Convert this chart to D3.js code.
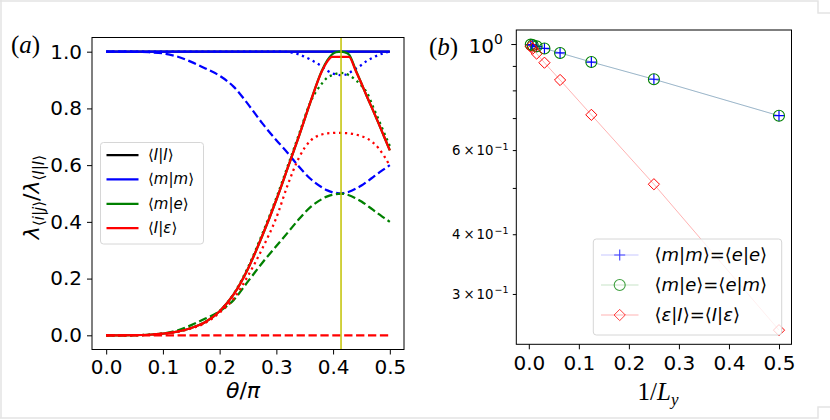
<!DOCTYPE html>
<html>
<head>
<meta charset="utf-8">
<script src="https://d3js.org/d3.v7.min.js"></script>
<style>
body { margin: 0; background: #fff; }
svg text { font-family: "DejaVu Sans", sans-serif; }
</style>
</head>
<body>
<svg id="chart" width="830" height="420"></svg>
<script>
// ---- panel (a) data : theta/pi grid and curves ----
const theta = [0, 0.025, 0.05, 0.075, 0.1, 0.125, 0.15, 0.175, 0.2, 0.225, 0.25, 0.275, 0.3, 0.32, 0.34, 0.36, 0.38, 0.39, 0.398, 0.405, 0.414, 0.42, 0.428, 0.44, 0.45, 0.46, 0.47, 0.48, 0.49, 0.5];

const iiSolid = [1, 1, 1, 1, 1, 1, 1, 1, 1, 1, 1, 1, 1, 1, 1, 1, 1, 1, 1, 1, 1, 1, 1, 1, 1, 1, 1, 1, 1, 1];

const mmSolid = [1, 1, 1, 1, 1, 1, 1, 1, 1, 1, 1, 1, 1, 1, 1, 1, 1, 1, 1, 1, 1, 1, 1, 1, 1, 1, 1, 1, 1, 1];
const mmDashed = [1, 1, 0.9995, 0.998, 0.994, 0.983, 0.964, 0.941, 0.915, 0.876, 0.815, 0.748, 0.688, 0.643, 0.594, 0.552, 0.522, 0.511, 0.505, 0.502, 0.5, 0.502, 0.506, 0.517, 0.528, 0.542, 0.557, 0.572, 0.586, 0.6];
const mmDotted = [1, 1, 1, 1, 1, 1, 1, 1, 1, 1, 1, 1, 1, 0.999, 0.99, 0.972, 0.948, 0.933, 0.924, 0.92, 0.917, 0.918, 0.925, 0.94, 0.953, 0.968, 0.979, 0.988, 0.995, 1];

const meSolid = [0, 0, 0.0003, 0.002, 0.006, 0.013, 0.026, 0.047, 0.085, 0.145, 0.235, 0.35, 0.478, 0.59, 0.703, 0.822, 0.932, 0.97, 0.99, 0.998, 1, 0.998, 0.99, 0.935, 0.888, 0.84, 0.795, 0.748, 0.7, 0.652];
const meDashed = [0, 0, 0.0005, 0.002, 0.006, 0.017, 0.036, 0.059, 0.085, 0.125, 0.19, 0.255, 0.315, 0.362, 0.41, 0.452, 0.48, 0.49, 0.495, 0.498, 0.5, 0.498, 0.494, 0.483, 0.472, 0.458, 0.443, 0.428, 0.414, 0.4];
const meDotted = [0, 0, 0.0003, 0.002, 0.006, 0.013, 0.026, 0.048, 0.086, 0.147, 0.24, 0.357, 0.485, 0.597, 0.71, 0.822, 0.887, 0.909, 0.917, 0.922, 0.925, 0.924, 0.917, 0.9, 0.88, 0.855, 0.808, 0.762, 0.714, 0.668];

const ieSolid = [0, 0, 0.0003, 0.002, 0.006, 0.013, 0.026, 0.047, 0.085, 0.145, 0.235, 0.35, 0.478, 0.59, 0.703, 0.822, 0.93, 0.966, 0.982, 0.982, 0.982, 0.982, 0.982, 0.932, 0.888, 0.84, 0.795, 0.748, 0.7, 0.652];
const ieDashed = [0, 0, 0, 0, 0, 0, 0, 0, 0, 0, 0, 0, 0, 0, 0, 0, 0, 0, 0, 0, 0, 0, 0, 0, 0, 0, 0, 0, 0, 0];
const ieDotted = [0, 0, 0.0003, 0.002, 0.006, 0.012, 0.024, 0.044, 0.08, 0.13, 0.21, 0.305, 0.415, 0.53, 0.627, 0.686, 0.708, 0.712, 0.713, 0.714, 0.714, 0.713, 0.712, 0.708, 0.702, 0.694, 0.68, 0.66, 0.632, 0.598];

const thetaCrit = 0.414;
const thetaTicks = [0, 0.1, 0.2, 0.3, 0.4, 0.5];
const lambdaTicks = [0, 0.2, 0.4, 0.6, 0.8, 1.0];

// ---- panel (b) data : 1/Ly and ratios ----
const invL = [0.5, 0.25, 0.125, 0.0625, 0.03125, 0.015625, 0.0078125, 0.00390625];
const mmRatio = [0.708, 0.844, 0.917, 0.958, 0.979, 0.989, 0.9946, 0.9973];
const meRatio = [0.708, 0.844, 0.917, 0.958, 0.979, 0.989, 0.9946, 0.9973];
const eiRatio = [0.252, 0.509, 0.711, 0.841, 0.914, 0.955, 0.978, 0.989];

const invLTicks = [0, 0.1, 0.2, 0.3, 0.4, 0.5];
const logMinor = [0.3, 0.4, 0.5, 0.6, 0.7, 0.8, 0.9];
const logMinorLabels = [0.3, 0.4, 0.6];

const svg = d3.select("#chart");

// faint frame of the original picture
svg.append("path")
    .attr("d", "M0,1 H818 V13 H830 M1,0 V418 M0,418 H818 V407 H830")
    .attr("fill", "none").attr("stroke", "#e4e4e4").attr("stroke-width", 1.5);

// write label made of [text, italic, size, dy] parts
let mathLabel = (sel, parts) => {
    parts.forEach(p => {
        const t = sel.append("tspan").text(p[0])
            .style("font-style", p[1] ? "italic" : "normal");
        if (p[2]) t.style("font-size", p[2] + "px");
        if (p[3]) t.attr("dy", p[3]);
    });
};

// ================= panel (a) =================
const xA = d3.scaleLinear().domain([-0.025, 0.525]).range([92, 404]);
const yA = d3.scaleLinear().domain([-0.05, 1.05]).range([349.5, 37.5]);

const gA = svg.append("g");

const lineA = vals => d3.line()
    .curve(d3.curveMonotoneX)
    .x((d, i) => xA(theta[i]))
    .y(d => yA(d))(vals);

const dashed = "8.3,3.6";
const dotted = "2.25,3.7";

const seriesA = [
    { v: iiSolid, c: "#000000", d: null },
    { v: mmSolid, c: "#0000ff", d: null },
    { v: mmDashed, c: "#0000ff", d: dashed },
    { v: mmDotted, c: "#0000ff", d: dotted },
    { v: meSolid, c: "#008000", d: null },
    { v: meDashed, c: "#008000", d: dashed },
    { v: meDotted, c: "#008000", d: dotted },
    { v: ieSolid, c: "#ff0000", d: null },
    { v: ieDashed, c: "#ff0000", d: dashed },
    { v: ieDotted, c: "#ff0000", d: dotted }
];

seriesA.forEach(s => {
    gA.append("path")
        .attr("d", lineA(s.v))
        .attr("fill", "none")
        .attr("stroke", s.c)
        .attr("stroke-width", 2.25)
        .attr("stroke-linecap", "butt")
        .attr("stroke-linejoin", "round")
        .attr("stroke-dasharray", s.d);
});

gA.append("line")
    .attr("x1", xA(thetaCrit)).attr("x2", xA(thetaCrit))
    .attr("y1", yA.range()[1]).attr("y2", yA.range()[0])
    .attr("stroke", "#c2c200").attr("stroke-width", 1.5);

gA.append("rect")
    .attr("x", 92).attr("y", 37.5).attr("width", 312).attr("height", 312)
    .attr("fill", "none").attr("stroke", "#000").attr("stroke-width", 1);

const axXA = gA.append("g")
    .attr("transform", "translate(0,349.5)")
    .call(d3.axisBottom(xA).tickValues(thetaTicks).tickSize(5).tickPadding(5).tickFormat(d3.format(".1f")));
const axYA = gA.append("g")
    .attr("transform", "translate(92,0)")
    .call(d3.axisLeft(yA).tickValues(lambdaTicks).tickSize(5).tickPadding(5).tickFormat(d3.format(".1f")));
[axXA, axYA].forEach(a => {
    a.select(".domain").remove();
    a.selectAll("text").style("font-size", "20px").attr("fill", "#000");
});

// legend (a)
const legA = gA.append("g");
legA.append("rect")
    .attr("x", 100.5).attr("y", 142.5).attr("width", 103).attr("height", 101.5)
    .attr("rx", 3).attr("fill", "#fff").attr("fill-opacity", 0.8)
    .attr("stroke", "#d6d6d6").attr("stroke-width", 1);
const legItemsA = [
    { c: "#000000", parts: [["⟨"], ["I", true], ["|"], ["I", true], ["⟩"]] },
    { c: "#0000ff", parts: [["⟨"], ["m", true], ["|"], ["m", true], ["⟩"]] },
    { c: "#008000", parts: [["⟨"], ["m", true], ["|"], ["e", true], ["⟩"]] },
    { c: "#ff0000", parts: [["⟨"], ["I", true], ["|"], ["ε", true], ["⟩"]] }
];
legItemsA.forEach((it, i) => {
    const y = 155 + i * 24.4;
    legA.append("line").attr("x1", 106.5).attr("x2", 138.5).attr("y1", y).attr("y2", y)
        .attr("stroke", it.c).attr("stroke-width", 2.25);
    const t = legA.append("text").attr("x", 148).attr("y", y + 5).style("font-size", "15px");
    mathLabel(t, it.parts);
});

// labels (a)
const xLabA = gA.append("text").attr("x", 243).attr("y", 398)
    .attr("text-anchor", "middle").style("font-size", "22px");
mathLabel(xLabA, [["θ", true], ["/"], ["π", true]]);

const yLabA = gA.append("text")
    .attr("transform", "translate(39,197) rotate(-90)")
    .attr("text-anchor", "middle").style("font-size", "22px");
mathLabel(yLabA, [["λ", true], ["⟨", false, 15, 5], ["i", true, 15], ["|", false, 15], ["j", true, 15], ["⟩", false, 15],
    ["/", false, 22, -5], ["λ", true, 22], ["⟨", false, 15, 5], ["I", true, 15], ["|", false, 15], ["I", true, 15], ["⟩", false, 15]]);

const tagA = svg.append("text").attr("x", 11).attr("y", 53)
    .style("font-family", "'Liberation Serif', serif").style("font-size", "25px");
mathLabel(tagA, [["("], ["a", true], [")"]]);

// ================= panel (b) =================
const xB = d3.scaleLinear().domain([-0.025, 0.525]).range([516.3, 791.5]);
const yB = d3.scaleLog().domain([0.2354, 1.07]).range([344.3, 30]);

const gB = svg.append("g");

const lineB = vals => d3.line()
    .x((d, i) => xB(invL[i]))
    .y(d => yB(d))(vals);

gB.append("path").attr("d", lineB(mmRatio)).attr("fill", "none")
    .attr("stroke", "#0000ff").attr("stroke-opacity", 0.22).attr("stroke-width", 1);
gB.append("path").attr("d", lineB(meRatio)).attr("fill", "none")
    .attr("stroke", "#008000").attr("stroke-opacity", 0.22).attr("stroke-width", 1);
gB.append("path").attr("d", lineB(eiRatio)).attr("fill", "none")
    .attr("stroke", "#ff0000").attr("stroke-opacity", 0.3).attr("stroke-width", 1);

const plusPath = "M-5.5,0H5.5M0,-5.5V5.5";
const diamondPath = "M0,-5.6L5.6,0L0,5.6L-5.6,0Z";

let drawMarkers = (vals, kind) => {
    vals.forEach((v, i) => {
        const px = xB(invL[i]), py = yB(v);
        if (kind === "plus") {
            gB.append("path").attr("d", plusPath).attr("transform", `translate(${px},${py})`)
                .attr("stroke", "#0000ff").attr("stroke-width", 1.2).attr("fill", "none");
        } else if (kind === "circle") {
            gB.append("circle").attr("cx", px).attr("cy", py).attr("r", 5.5)
                .attr("stroke", "#008000").attr("stroke-width", 1.1).attr("fill", "none");
        } else {
            gB.append("path").attr("d", diamondPath).attr("transform", `translate(${px},${py})`)
                .attr("stroke", "#ff0000").attr("stroke-width", 1).attr("fill", "none");
        }
    });
};
drawMarkers(mmRatio, "plus");
drawMarkers(meRatio, "circle");
drawMarkers(eiRatio, "diamond");

gB.append("rect")
    .attr("x", 516.3).attr("y", 30).attr("width", 275.2).attr("height", 314.3)
    .attr("fill", "none").attr("stroke", "#000").attr("stroke-width", 1);

const axXB = gB.append("g")
    .attr("transform", "translate(0,344.3)")
    .call(d3.axisBottom(xB).tickValues(invLTicks).tickSize(5).tickPadding(7).tickFormat(d3.format(".1f")));
axXB.select(".domain").remove();
axXB.selectAll("text").style("font-size", "20px").attr("fill", "#000");

const axYB = gB.append("g")
    .attr("transform", "translate(516.3,0)")
    .call(d3.axisLeft(yB).tickValues([1]).tickSize(5).tickFormat(""));
axYB.select(".domain").remove();
gB.append("g")
    .attr("transform", "translate(516.3,0)")
    .call(d3.axisLeft(yB).tickValues(logMinor).tickSize(3.5).tickFormat(""))
    .select(".domain").remove();

const majLab = gB.append("text").attr("x", 503).attr("y", yB(1) + 9)
    .attr("text-anchor", "end").style("font-size", "20px");
mathLabel(majLab, [["10"], ["0", false, 14, -9]]);

// minor labels like "6 × 10^-1", pieces placed from the label's right edge
const labRight = 507;
logMinorLabels.forEach(v => {
    const y = yB(v) + 5;
    const lab = gB.append("g").style("font-size", "13.3px");
    lab.append("text").attr("x", labRight - 55).attr("y", y).text(String(v * 10));
    lab.append("text").attr("x", labRight - 38).attr("y", y).attr("text-anchor", "middle").text("×");
    lab.append("text").attr("x", labRight - 30.5).attr("y", y).text("10");
    lab.append("text").attr("x", labRight - 12.5).attr("y", y - 5.5)
        .style("font-size", "9.5px").text("−1");
});

// legend (b)
const legB = gB.append("g");
legB.append("rect")
    .attr("x", 593.3).attr("y", 239).attr("width", 188.4).attr("height", 96)
    .attr("rx", 3).attr("fill", "#fff").attr("fill-opacity", 0.8)
    .attr("stroke", "#d6d6d6").attr("stroke-width", 1);
const legItemsB = [
    { c: "#0000ff", a: 0.22, m: "plus", parts: [["⟨"], ["m", true], ["|"], ["m", true], ["⟩=⟨"], ["e", true], ["|"], ["e", true], ["⟩"]] },
    { c: "#008000", a: 0.22, m: "circle", parts: [["⟨"], ["m", true], ["|"], ["e", true], ["⟩=⟨"], ["e", true], ["|"], ["m", true], ["⟩"]] },
    { c: "#ff0000", a: 0.3, m: "diamond", parts: [["⟨"], ["ε", true], ["|"], ["I", true], ["⟩=⟨"], ["I", true], ["|"], ["ε", true], ["⟩"]] }
];
legItemsB.forEach((it, i) => {
    const y = 255 + i * 30;
    const mx = 619.7;
    legB.append("line").attr("x1", 601).attr("x2", 638.5).attr("y1", y).attr("y2", y)
        .attr("stroke", it.c).attr("stroke-opacity", it.a).attr("stroke-width", 1);
    if (it.m === "plus") {
        legB.append("path").attr("d", plusPath).attr("transform", `translate(${mx},${y})`)
            .attr("stroke", it.c).attr("stroke-width", 1.2).attr("fill", "none").attr("opacity", 0.7);
    } else if (it.m === "circle") {
        legB.append("circle").attr("cx", mx).attr("cy", y).attr("r", 5.5)
            .attr("stroke", it.c).attr("stroke-width", 1.1).attr("fill", "none").attr("opacity", 0.75);
    } else {
        legB.append("path").attr("d", diamondPath).attr("transform", `translate(${mx},${y})`)
            .attr("stroke", it.c).attr("stroke-width", 1).attr("fill", "none").attr("opacity", 0.75);
    }
    const t = legB.append("text").attr("x", 654.5).attr("y", y + 6).style("font-size", "18px");
    mathLabel(t, it.parts);
});

// labels (b)
const xLabB = gB.append("text").attr("x", 658).attr("y", 400)
    .attr("text-anchor", "middle")
    .style("font-family", "'Liberation Serif', serif").style("font-size", "25px");
mathLabel(xLabB, [["1/"], ["L", true], ["y", true, 17, 5]]);

const tagB = svg.append("text").attr("x", 429).attr("y", 55)
    .style("font-family", "'Liberation Serif', serif").style("font-size", "25px");
mathLabel(tagB, [["("], ["b", true], [")"]]);
</script>
</body>
</html>
